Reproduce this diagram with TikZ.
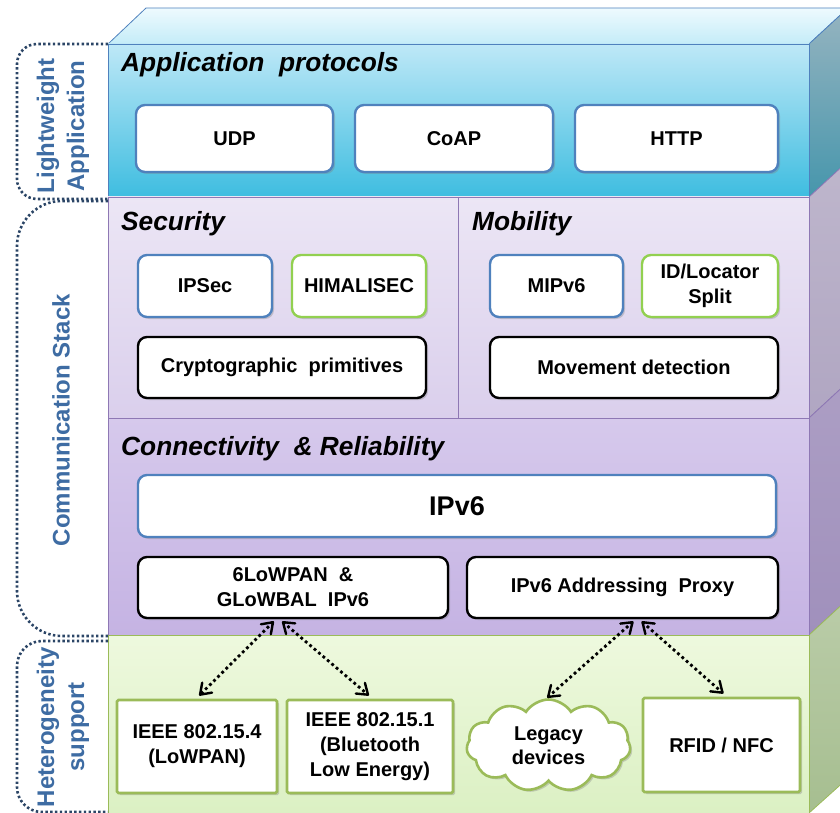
\documentclass[tikz,border=0pt]{standalone}
\usepackage{fontspec}
\setmainfont{Liberation Sans}
\usetikzlibrary{arrows.meta,shapes.symbols,shadows,calc,decorations.markings}
\definecolor{bluebd}{HTML}{4F81BD}
\definecolor{greenbd}{HTML}{92D050}
\definecolor{hetbd}{HTML}{9BBB59}
\definecolor{purpbd}{HTML}{8E78B4}
\definecolor{labelblue}{HTML}{3E6CA3}
\definecolor{bracketcol}{HTML}{2B4566}
\tikzset{
  boxbase/.style={fill=white, rounded corners=9pt, line width=2.4pt, inner sep=2pt, align=center,
    font=\bfseries\fontsize{20}{23}\selectfont,
    drop shadow={opacity=0.35, shadow xshift=2pt, shadow yshift=-2pt}},
  bluebox/.style={boxbase, draw=bluebd},
  greenbox/.style={boxbase, draw=greenbd},
  blackbox/.style={boxbase, draw=black},
  hetbox/.style={fill=white, draw=hetbd, line width=2.6pt, rounded corners=1.5pt, align=center,
    font=\bfseries\fontsize{20}{25}\selectfont,
    drop shadow={opacity=0.35, shadow xshift=2pt, shadow yshift=-2pt}},
  titletext/.style={anchor=base west, inner sep=0pt, font=\bfseries\itshape\fontsize{26.3}{29}\selectfont},
  sidelabel/.style={rotate=90, align=center, text=labelblue, font=\bfseries\fontsize{24}{30}\selectfont},
  bracket/.style={draw=bracketcol, line width=2.6pt, dash pattern=on 2.4pt off 2.4pt},
  linkline/.style={draw=black, line width=2.8pt, dash pattern=on 2.8pt off 3pt,
    postaction={decorate},
    decoration={markings,
      mark=at position 0 with {\draw[solid, line width=2.4pt, line cap=round, line join=round] (10pt,-7pt) -- (0pt,0pt) -- (10pt,7pt);},
      mark=at position 1 with {\draw[solid, line width=2.4pt, line cap=round, line join=round] (-10pt,-7pt) -- (0pt,0pt) -- (-10pt,7pt);}}}
}
\begin{document}
\begin{tikzpicture}[x=1pt,y=-1pt]
\useasboundingbox (0,0) rectangle (840,813);
% top face
\path[top color={rgb,255:red,238;green,250;blue,254}, bottom color={rgb,255:red,196;green,236;blue,248}, draw=bluebd, line width=0.8pt]
  (108,44) -- (146,8) -- (848,8) -- (809,44) -- cycle;
% side faces
\path[top color={rgb,255:red,150;green,180;blue,192}, bottom color={rgb,255:red,70;green,150;blue,172}, draw=bluebd, line width=0.8pt]
  (809,44) -- (848,8) -- (848,161) -- (809,197) -- cycle;
\path[top color={rgb,255:red,190;green,182;blue,204}, bottom color={rgb,255:red,176;green,166;blue,194}, draw=purpbd, line width=0.8pt]
  (809,197) -- (848,161) -- (848,382) -- (809,418) -- cycle;
\path[top color={rgb,255:red,172;green,158;blue,196}, bottom color={rgb,255:red,160;green,144;blue,188}, draw=purpbd, line width=0.8pt]
  (809,418) -- (848,382) -- (848,599) -- (809,635) -- cycle;
\path[top color={rgb,255:red,186;green,204;blue,168}, bottom color={rgb,255:red,166;green,190;blue,144}, draw=hetbd, line width=0.8pt]
  (809,635) -- (848,599) -- (848,778) -- (809,813) -- cycle;
% front faces
\path[top color={rgb,255:red,190;green,232;blue,247}, bottom color={rgb,255:red,62;green,189;blue,224}, draw=bluebd, line width=0.8pt]
  (108,44) rectangle (809,197);
\path[top color={rgb,255:red,236;green,230;blue,245}, bottom color={rgb,255:red,218;green,207;blue,236}, draw=purpbd, line width=0.8pt]
  (108,197) rectangle (809,418);
\draw[purpbd, line width=0.8pt] (458,197) -- (458,418);
\path[top color={rgb,255:red,214;green,201;blue,236}, bottom color={rgb,255:red,197;green,179;blue,227}, draw=purpbd, line width=0.8pt]
  (108,418) rectangle (809,635);
\path[top color={rgb,255:red,238;green,249;blue,222}, bottom color={rgb,255:red,219;green,240;blue,195}, draw=hetbd, line width=0.8pt]
  (108,635) rectangle (809,816);

% titles
\node[titletext] (tapp) at (121,72) {Application\ \ protocols};
\node[titletext] (tsec) at (121,230) {Security};
\node[titletext] (tmob) at (472,230) {Mobility};
\node[titletext] (tcon) at (121,455) {Connectivity\ \ \&\ Reliability};

% application boxes
\node[bluebox, minimum width=197, minimum height=67] (udp) at (234.5,138.5) {UDP};
\node[bluebox, minimum width=198, minimum height=67] (coap) at (454,138.5) {CoAP};
\node[bluebox, minimum width=203, minimum height=67] (http) at (676.5,138.5) {HTTP};

% security / mobility
\node[bluebox, minimum width=134, minimum height=62] (ipsec) at (205,286) {IPSec};
\node[greenbox, minimum width=134, minimum height=62] (himali) at (359,286) {HIMALISEC};
\node[blackbox, minimum width=288, minimum height=61] (crypto) at (282,367.5) {Cryptographic\ \ primitives};
\node[bluebox, minimum width=133, minimum height=62] (mipv6) at (556.5,286) {MIPv6};
\node[greenbox, minimum width=136, minimum height=62, font=\bfseries\fontsize{20}{25}\selectfont] (idloc) at (710,286) {ID/Locator\\Split};
\node[blackbox, minimum width=288, minimum height=61] (move) at (634,367.5) {Movement detection};

% connectivity
\node[bluebox, minimum width=638, minimum height=62, font=\bfseries\fontsize{27}{30}\selectfont] (ipv6) at (457,506) {IPv6};
\node[blackbox, minimum width=310, minimum height=61, font=\bfseries\fontsize{20}{25}\selectfont] (lowpan) at (293,587.5) {6LoWPAN\ \ \&\\GLoWBAL\ \ IPv6};
\node[blackbox, minimum width=311, minimum height=61] (proxy) at (622.5,587.5) {IPv6 Addressing\ \ Proxy};

% heterogeneity
\node[hetbox, minimum width=160, minimum height=93] (ieee4) at (197,746.5) {IEEE 802.15.4\\(LoWPAN)};
\node[hetbox, minimum width=166, minimum height=93] (ieee1) at (370,746.5) {IEEE 802.15.1\\(Bluetooth\\Low Energy)};
\node[cloud, cloud puffs=11, cloud puff arc=115, cloud ignores aspect, draw=hetbd, line width=2.6pt, fill=white,
  minimum width=164, minimum height=92, inner sep=0pt, align=center,
  font=\bfseries\fontsize{20}{24}\selectfont,
  drop shadow={opacity=0.35, shadow xshift=2pt, shadow yshift=-2pt}] (legacy) at (548.5,745.5) {Legacy\\devices};
\node[hetbox, minimum width=157, minimum height=94] (rfid) at (721.5,745) {RFID / NFC};

% arrows
\coordinate (l1) at ($(lowpan.south)+(-20,3)$);
\coordinate (l2) at ($(lowpan.south)+(-10,3)$);
\coordinate (p1) at ($(proxy.south)+(10,3)$);
\coordinate (p2) at ($(proxy.south)+(20,3)$);
\coordinate (e4) at ($(ieee4.north)+(3,-4)$);
\coordinate (e1) at ($(ieee1.north)+(-2,-4)$);
\coordinate (lg) at (548,697);
\coordinate (rf) at ($(rfid.north)+(1,-4)$);
\foreach \a/\b in {l1/e4, l2/e1, p1/lg, p2/rf}{
  \draw[linkline] (\a) -- (\b);
}

% left brackets
\draw[bracket, rounded corners=20pt] (108,44) -| (17,199) -- (108,199);
\draw[bracket, rounded corners=45pt] (108,201) -| (17,636) -- (108,636);
\draw[bracket, rounded corners=25pt] (108,641) -| (17,812) -- (108,812);

% left labels
\node[sidelabel] (llight) at (63,126) {Lightweight\\Application};
\node[sidelabel] (lcomm) at (61,420) {Communication Stack};
\node[sidelabel] (lhet) at (63,727) {Heterogeneity\\support};
\end{tikzpicture}
\end{document}
